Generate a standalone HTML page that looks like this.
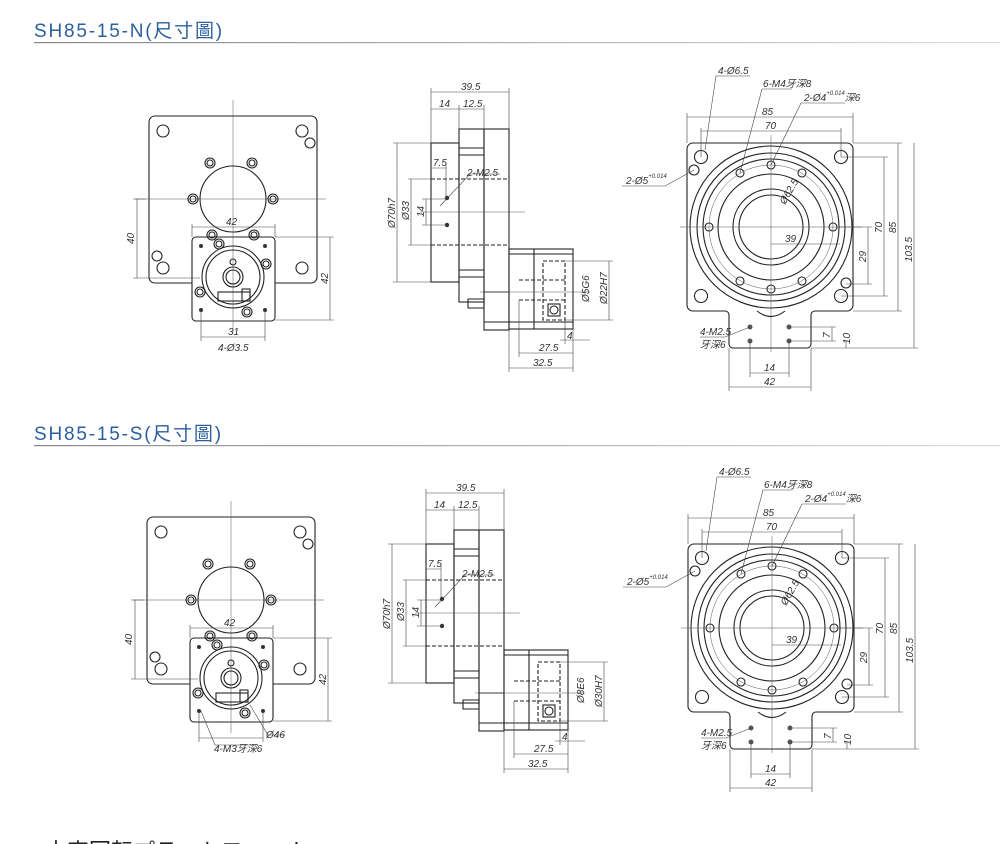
<!DOCTYPE html>
<html><head><meta charset="utf-8"><style>
html,body{margin:0;padding:0;background:#fff;width:1000px;height:844px;overflow:hidden}
svg{display:block}
.h{font-family:"Liberation Sans","Noto Sans CJK TC",sans-serif;font-size:19px;fill:#2b5f9e;letter-spacing:1.8px}
.t{font-family:"Liberation Sans","Noto Sans CJK SC",sans-serif;font-size:10px;font-style:italic;fill:#333}
.s{font-size:6px}
.o{fill:none;stroke:#222;stroke-width:1.1}
.d{fill:none;stroke:#444;stroke-width:0.6}
.c{fill:none;stroke:#555;stroke-width:0.5}
.k{fill:none;stroke:#222;stroke-width:1.1;stroke-dasharray:4 2}
</style></head><body>
<svg width="1000" height="844" viewBox="0 0 1000 844" xmlns="http://www.w3.org/2000/svg">
<defs>
<linearGradient id="g" x1="0" x2="1"><stop offset="0" stop-color="#888"/><stop offset="1" stop-color="#ddd"/></linearGradient>
<g id="front">
 <path class="o" d="M192 283 H155 A6 6 0 0 1 149 277 V122 A6 6 0 0 1 155 116 H311 A6 6 0 0 1 317 122 V277 A6 6 0 0 1 311 283 H275"/>
 <rect class="o" x="192" y="237" width="83" height="84" rx="4"/>
 <line class="c" x1="233" y1="100" x2="233" y2="332"/>
 <line class="c" x1="135" y1="199" x2="326" y2="199"/>
 <circle class="o" cx="233" cy="199" r="33"/>
 <g class="o">
  <circle cx="210" cy="163" r="5"/><circle cx="210" cy="163" r="3"/>
  <circle cx="252" cy="163" r="5"/><circle cx="252" cy="163" r="3"/>
  <circle cx="193" cy="199" r="5"/><circle cx="193" cy="199" r="3"/>
  <circle cx="273" cy="199" r="5"/><circle cx="273" cy="199" r="3"/>
  <circle cx="212" cy="235" r="5"/><circle cx="212" cy="235" r="3"/>
  <circle cx="254" cy="235" r="5"/><circle cx="254" cy="235" r="3"/>
  <circle cx="163" cy="131" r="6"/><circle cx="302" cy="131" r="6"/><circle cx="310" cy="143" r="5"/>
  <circle cx="157" cy="256" r="5"/><circle cx="163" cy="268" r="6"/><circle cx="302" cy="268" r="6"/>
  <circle cx="233" cy="277" r="31"/><circle cx="233" cy="277" r="27"/>
  <circle cx="233" cy="262" r="3"/><circle cx="233" cy="277" r="10"/><circle cx="233" cy="277" r="7"/>
  <circle cx="219" cy="244" r="5"/><circle cx="219" cy="244" r="3"/>
  <circle cx="266" cy="264" r="5"/><circle cx="266" cy="264" r="3"/>
  <circle cx="200" cy="292" r="5"/><circle cx="200" cy="292" r="3"/>
  <circle cx="247" cy="312" r="5"/><circle cx="247" cy="312" r="3"/>
  <rect x="218" y="292" width="32" height="9"/><rect x="242" y="289" width="8" height="12"/>
 </g>
 <g fill="#333"><circle cx="201" cy="246" r="2"/><circle cx="265" cy="246" r="2"/><circle cx="201" cy="310" r="2"/><circle cx="265" cy="310" r="2"/></g>
 <path class="d" d="M192 237 V224 M275 237 V224 M192 227 H275 M133 199 H146 M133 278 H200 M137 199 V278 M275 237 H334 M275 320 H334 M330 237 V320 M201 310 V341 M265 310 V341 M201 337 H265"/>
</g>
<g id="side">
 <rect class="o" x="431" y="143" width="28" height="139"/>
 <rect class="o" x="459" y="129" width="25" height="173"/>
 <rect class="o" x="484" y="129" width="25" height="201"/>
 <rect class="o" x="509" y="249" width="64" height="80"/>
 <path class="o" d="M459 148 H484 M459 155 H484 M459 270 H484 M459 277 H484 M534 249 V329 M509 254 H573 M484 322 H573 M468 299 H484 V308 H468 Z M484 292 H509"/>
 <path class="k" d="M431 179 H509 M431 245 H509 M519 280 H565 M519 300 H565 M543 261 H565 V320 H543 Z"/>
 <rect class="o" x="548" y="304" width="12" height="12"/><circle class="o" cx="554" cy="310" r="4"/>
 <line class="c" x1="420" y1="212" x2="525" y2="212"/>
 <line class="c" x1="480" y1="292" x2="590" y2="292"/>
 <circle cx="447" cy="198" r="2.2" fill="#333"/><circle cx="447" cy="225" r="2.2" fill="#333"/>
 <path class="d" d="M431 143 V88 M509 129 V88 M431 92 H509 M459 129 V105 M484 129 V105 M431 109 H484 M431 143 H393 M431 282 H393 M397 143 V282 M431 179 H408 M431 245 H408 M411 179 V245 M447 199 H422 M447 225 H422 M426 199 V225 M446 198 V164 M431 168 H446 M440 206 L470 174 H500 M565 261 H613 M565 320 H613 M609 261 V320 M519 300 V357 M573 329 V372 M509 329 V372 M519 353 H573 M509 368 H573 M565 320 V344 M560 340 H590"/>
</g>
<g id="top">
 <path class="o" d="M693 143 H847 A6 6 0 0 1 853 149 V305 A6 6 0 0 1 847 311 H815 A4 4 0 0 0 811 315 V344 A4 4 0 0 1 807 348 H733 A4 4 0 0 1 729 344 V315 A4 4 0 0 0 725 311 H693 A6 6 0 0 1 687 305 V149 A6 6 0 0 1 693 143 Z"/>
 <path class="o" d="M757 311 Q771 322 785 311"/>
 <g class="o">
  <circle cx="771" cy="227" r="81"/><circle cx="771" cy="227" r="74"/><circle cx="771" cy="227" r="68"/>
  <circle cx="771" cy="227" r="53"/><circle cx="771" cy="227" r="38"/><circle cx="771" cy="227" r="32"/>
  <circle cx="701" cy="157" r="6.5"/><circle cx="841" cy="157" r="6.5"/><circle cx="701" cy="296" r="6.5"/><circle cx="841" cy="296" r="6.5"/>
  <circle cx="694" cy="170" r="5"/><circle cx="846" cy="283" r="5"/>
  <circle cx="833" cy="227" r="4"/><circle cx="802" cy="173" r="4"/><circle cx="771" cy="165" r="4"/><circle cx="740" cy="173" r="4"/>
  <circle cx="709" cy="227" r="4"/><circle cx="740" cy="281" r="4"/><circle cx="771" cy="289" r="4"/><circle cx="802" cy="281" r="4"/>
 </g>
 <circle class="c" cx="771" cy="227" r="62"/>
 <g fill="#555"><circle cx="750" cy="327" r="2.5"/><circle cx="789" cy="327" r="2.5"/><circle cx="750" cy="341" r="2.5"/><circle cx="789" cy="341" r="2.5"/></g>
 <line class="c" x1="680" y1="227" x2="862" y2="227"/>
 <line class="c" x1="771" y1="135" x2="771" y2="352"/>
 <path class="d" d="M687 143 V113 M853 143 V113 M687 117 H853 M701 157 V128 M841 157 V128 M701 131 H841 M841 157 H888 M841 296 H888 M884 157 V296 M853 143 H902 M853 311 H902 M898 143 V311 M811 348 H918 M914 143 V348 M838 227 H872 M846 284 H872 M868 227 V284 M771 244 H840 M789 327 H836 M789 341 H836 M832 327 V341 M811 348 H850 M846 341 V348 M750 341 V377 M789 341 V377 M750 373 H789 M729 348 V391 M811 348 V391 M729 387 H811 M705 150 L716 76 H750 M740 173 L762 89 H792 M771 165 L801 103 H845 M694 170 L665 186 H622 M750 327 L725 337 H700"/>
</g>
</defs>

<text class="h" x="34" y="37">SH85-15-N(尺寸圖)</text>
<rect x="34" y="42" width="966" height="1.2" fill="url(#g)"/>
<text class="h" x="34" y="440">SH85-15-S(尺寸圖)</text>
<rect x="34" y="445" width="966" height="1.2" fill="url(#g)"/>

<use href="#front"/>
<use href="#side"/>
<use href="#top"/>
<g transform="translate(-2,401)"><use href="#front"/></g>
<g transform="translate(-5,401)"><use href="#side"/></g>
<g transform="translate(1,401)"><use href="#top"/></g>

<g class="t">
 <text x="226" y="225">42</text>
 <text x="134" y="244" transform="rotate(-90 134 244)">40</text>
 <text x="328" y="284" transform="rotate(-90 328 284)">42</text>
 <text x="228" y="335">31</text>
 <text x="218" y="351">4-Ø3.5</text>
 <text x="461" y="90">39.5</text>
 <text x="439" y="107">14</text>
 <text x="463" y="107">12.5</text>
 <text x="433" y="166">7.5</text>
 <text x="467" y="176">2-M2.5</text>
 <text x="395" y="228" transform="rotate(-90 395 228)">Ø70h7</text>
 <text x="409" y="220" transform="rotate(-90 409 220)">Ø33</text>
 <text x="424" y="217" transform="rotate(-90 424 217)">14</text>
 <text x="589" y="302" transform="rotate(-90 589 302)">Ø5G6</text>
 <text x="607" y="304" transform="rotate(-90 607 304)">Ø22H7</text>
 <text x="539" y="351">27.5</text>
 <text x="533" y="366">32.5</text>
 <text x="567" y="339">4</text>
 <text x="718" y="74">4-Ø6.5</text>
 <text x="763" y="87">6-M4牙深8</text>
 <text x="804" y="101">2-Ø4<tspan class="s" dy="-6">+0.014</tspan><tspan dy="6">深6</tspan></text>
 <text x="626" y="184">2-Ø5<tspan class="s" dy="-6">+0.014</tspan></text>
 <text x="762" y="115">85</text>
 <text x="765" y="129">70</text>
 <text x="785" y="242">39</text>
 <text x="785" y="205" transform="rotate(-60 785 205)">Ø62.5</text>
 <text x="866" y="262" transform="rotate(-90 866 262)">29</text>
 <text x="882" y="233" transform="rotate(-90 882 233)">70</text>
 <text x="896" y="233" transform="rotate(-90 896 233)">85</text>
 <text x="912" y="262" transform="rotate(-90 912 262)">103.5</text>
 <text x="830" y="338" transform="rotate(-90 830 338)">7</text>
 <text x="850" y="344" transform="rotate(-90 850 344)">10</text>
 <text x="700" y="335">4-M2.5</text>
 <text x="700" y="348">牙深6</text>
 <text x="764" y="371">14</text>
 <text x="764" y="385">42</text>
</g>
<g class="t">
 <text x="224" y="626">42</text>
 <text x="132" y="645" transform="rotate(-90 132 645)">40</text>
 <text x="326" y="685" transform="rotate(-90 326 685)">42</text>
 <path class="d" d="M201 711 L215 745 H255 M250 705 L268 735 H285"/>
 <text x="266" y="738">Ø46</text>
 <text x="214" y="752">4-M3牙深6</text>
 <text x="456" y="491">39.5</text>
 <text x="434" y="508">14</text>
 <text x="458" y="508">12.5</text>
 <text x="428" y="567">7.5</text>
 <text x="462" y="577">2-M2.5</text>
 <text x="390" y="629" transform="rotate(-90 390 629)">Ø70h7</text>
 <text x="404" y="621" transform="rotate(-90 404 621)">Ø33</text>
 <text x="419" y="618" transform="rotate(-90 419 618)">14</text>
 <text x="584" y="703" transform="rotate(-90 584 703)">Ø8E6</text>
 <text x="602" y="707" transform="rotate(-90 602 707)">Ø30H7</text>
 <text x="534" y="752">27.5</text>
 <text x="528" y="767">32.5</text>
 <text x="562" y="740">4</text>
 <text x="719" y="475">4-Ø6.5</text>
 <text x="764" y="488">6-M4牙深8</text>
 <text x="805" y="502">2-Ø4<tspan class="s" dy="-6">+0.014</tspan><tspan dy="6">深6</tspan></text>
 <text x="627" y="585">2-Ø5<tspan class="s" dy="-6">+0.014</tspan></text>
 <text x="763" y="516">85</text>
 <text x="766" y="530">70</text>
 <text x="786" y="643">39</text>
 <text x="786" y="606" transform="rotate(-60 786 606)">Ø62.5</text>
 <text x="867" y="663" transform="rotate(-90 867 663)">29</text>
 <text x="883" y="634" transform="rotate(-90 883 634)">70</text>
 <text x="897" y="634" transform="rotate(-90 897 634)">85</text>
 <text x="913" y="663" transform="rotate(-90 913 663)">103.5</text>
 <text x="831" y="739" transform="rotate(-90 831 739)">7</text>
 <text x="851" y="745" transform="rotate(-90 851 745)">10</text>
 <text x="701" y="736">4-M2.5</text>
 <text x="701" y="749">牙深6</text>
 <text x="765" y="772">14</text>
 <text x="765" y="786">42</text>
</g>
<text x="45" y="859" style="font-family:'Liberation Sans','Noto Sans CJK JP',sans-serif;font-size:22px;fill:#222">中空回転プラットフォーム</text>
</svg>
</body></html>
